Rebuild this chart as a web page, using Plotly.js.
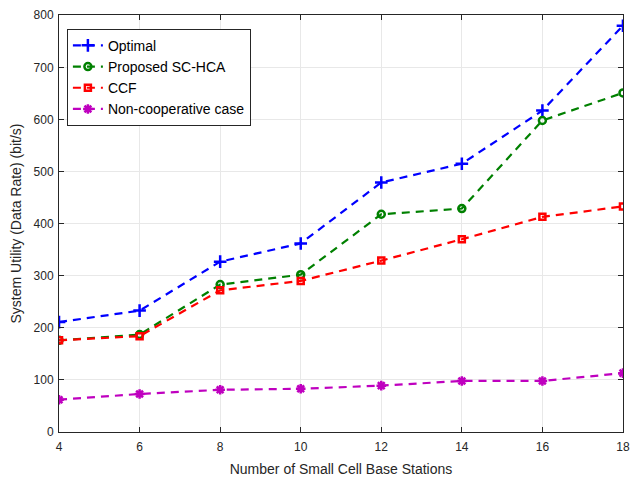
<!DOCTYPE html>
<html><head><meta charset="utf-8">
<script src="https://cdn.plot.ly/plotly-3.0.1.min.js"></script>
<style>body{margin:0;background:#fff}#c{width:631px;height:479px}</style>
</head><body><div id="c"></div>
<script>
const xs = [4, 6, 8, 10, 12, 14, 16, 18];
const optimal = [211, 233, 327, 362, 479, 515, 617, 780];
const proposed = [176, 187, 283, 302, 418, 429, 598, 651];
const ccf = [176, 184, 272, 290, 329, 370, 413, 433];
const noncoop = [62, 73, 81, 83, 89, 98, 98, 113];
const names = ['Optimal', 'Proposed SC-HCA', 'CCF', 'Non-cooperative case'];

function tr(y, name, color, sym, msize) {
  return {x: xs, y: y, name: name, type: 'scatter', mode: 'lines+markers',
    line: {color: color, width: 2.2, dash: '8px,6px'},
    marker: {symbol: sym, size: msize, color: color, line: {color: color, width: 2.5}}};
}
const data = [
  tr(optimal, names[0], '#0000ff', 'cross-thin-open', 9),
  tr(proposed, names[1], '#008000', 'circle-open', 7),
  tr(ccf, names[2], '#ff0000', 'square-open', 6),
  tr(noncoop, names[3], '#bf00bf', 'asterisk-open', 8)
];
const ff = 'Liberation Sans, Arial, sans-serif';
const axCommon = {showline: true, linecolor: '#262626', linewidth: 1, mirror: 'ticks',
  ticks: 'inside', ticklen: 5, tickcolor: '#262626', showgrid: true, gridcolor: '#e8e8e8',
  zeroline: false, ticklabeloverflow: 'allow', tickfont: {size: 12, color: '#262626', family: ff}};
const layout = {
  width: 631, height: 479,
  margin: {l: 59, r: 8, t: 15, b: 47},
  paper_bgcolor: '#fff', plot_bgcolor: '#fff',
  font: {family: ff, color: '#262626'},
  xaxis: Object.assign({}, axCommon, {range: [3.999, 18.001], tickvals: xs, ticktext: xs.map(String),
    ticklabelstandoff: 4,
    title: {text: 'Number of Small Cell Base Stations', font: {size: 14}, standoff: 10}}),
  yaxis: Object.assign({}, axCommon, {range: [0, 800.5], tickvals: [0,100,200,300,400,500,600,700,800],
    ticklabelstandoff: 2,
    title: {text: 'System Utility (Data Rate) (bit/s)', font: {size: 14}, standoff: 8}}),
  showlegend: true,
  legend: {x: 0.014, y: 0.967, xanchor: 'left', yanchor: 'top', bgcolor: '#fff',
    bordercolor: '#262626', borderwidth: 1, font: {size: 14, color: '#000', family: ff},
    tracegroupgap: 0, itemwidth: 30}
};
Plotly.newPlot('c', data, layout, {displayModeBar: false, staticPlot: true});
</script></body></html>
